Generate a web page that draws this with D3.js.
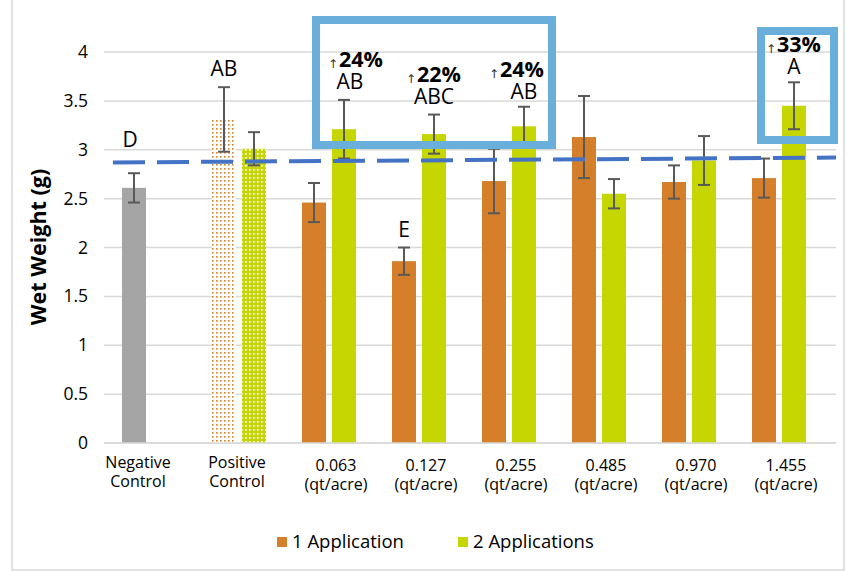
<!DOCTYPE html>
<html>
<head>
<meta charset="utf-8">
<script src="https://cdn.jsdelivr.net/npm/d3@7"></script>
<style>
  body { margin: 0; background: #fff; }
  text { font-family: "Open Sans", Lato, sans-serif; fill: #000; }
</style>
</head>
<body>
<div class="chart"></div>
<script>
// data
const categories = ["Negative Control", "Positive Control", "0.063", "0.127", "0.255", "0.485", "0.970", "1.455"];
const catLines = [["Negative", "Control"], ["Positive", "Control"], ["0.063", "(qt/acre)"], ["0.127", "(qt/acre)"],
                  ["0.255", "(qt/acre)"], ["0.485", "(qt/acre)"], ["0.970", "(qt/acre)"], ["1.455", "(qt/acre)"]];
const oneApp = [2.61, 3.31, 2.46, 1.86, 2.68, 3.13, 2.67, 2.71];
const oneErr = [0.15, 0.33, 0.20, 0.14, 0.33, 0.42, 0.17, 0.20];
const twoApp = [null, 3.01, 3.21, 3.16, 3.24, 2.55, 2.89, 3.45];
const twoErr = [null, 0.17, 0.30, 0.20, 0.20, 0.15, 0.25, 0.24];
const yTicks = [0, 0.5, 1, 1.5, 2, 2.5, 3, 3.5, 4];
const refLine = [2.87, 2.92]; // dashed line, start and end value
// letter groups: [category, series, text]
const letters = [[0, 1, "D"], [1, 1, "AB"], [2, 2, "AB"], [3, 2, "ABC"], [4, 2, "AB"], [3, 1, "E"], [7, 2, "A"]];
const increases = [[2, "24%"], [3, "22%"], [4, "24%"], [7, "33%"]];
const seriesNames = ["1 Application", "2 Applications"];

const orange = "#d67f2b", green = "#c5d600", grey = "#a5a5a5", errCol = "#595959";

const W = 847, H = 573;
const svg = d3.select(".chart").append("svg").attr("width", W).attr("height", H);

// patterns for positive control
const defs = svg.append("defs");
const pO = defs.append("pattern").attr("id", "dotOrange").attr("patternUnits", "userSpaceOnUse")
  .attr("width", 4).attr("height", 4);
pO.append("rect").attr("width", 4).attr("height", 4).attr("fill", "#fff");
pO.append("rect").attr("width", 1.6).attr("height", 1.6).attr("fill", orange);
const pG = defs.append("pattern").attr("id", "dotGreen").attr("patternUnits", "userSpaceOnUse")
  .attr("width", 4).attr("height", 4);
pG.append("rect").attr("width", 4).attr("height", 4).attr("fill", green);
pG.append("rect").attr("x", 1).attr("y", 1).attr("width", 1.7).attr("height", 1.7).attr("fill", "#fff");

// frame
svg.append("rect").attr("x", 12).attr("y", -2).attr("width", 832).attr("height", 572)
  .attr("fill", "none").attr("stroke", "#d9d9d9").attr("stroke-width", 1.5);

const x = d3.scaleBand().domain(categories).range([104, 824]).padding(0);
const y = d3.scaleLinear().domain([0, 4]).range([443, 52]);
const barW = 24;

// grid
svg.append("g").selectAll("line").data(yTicks).join("line")
  .attr("x1", 104).attr("x2", 836)
  .attr("y1", d => y(d)).attr("y2", d => y(d))
  .attr("stroke", "#d9d9d9").attr("stroke-width", 1.5);

// y axis labels
const yAxis = svg.append("g").attr("transform", "translate(93,0)")
  .call(d3.axisLeft(y).tickValues(yTicks).tickSize(0).tickPadding(5).tickFormat(d3.format("~g")));
yAxis.select(".domain").remove();
yAxis.selectAll("text").attr("font-size", 17.5).attr("font-family", "'Open Sans', sans-serif").attr("fill", "#000");

svg.append("text").attr("transform", "translate(46,247) rotate(-90)")
  .attr("text-anchor", "middle").attr("font-size", 21.5).attr("font-weight", "bold").text("Wet Weight (g)");

// bars
const cx = i => x(categories[i]) + x.bandwidth() / 2;
const bars1 = oneApp.map((v, i) => ({i, v, e: oneErr[i], s: 0}));
const bars2 = twoApp.map((v, i) => ({i, v, e: twoErr[i], s: 1})).filter(d => d.v != null);
const allBars = bars1.concat(bars2);
const bx = d => d.s === 0 ? cx(d.i) - 27 : cx(d.i) + 3;

svg.append("g").selectAll("rect").data(allBars).join("rect")
  .attr("x", bx).attr("width", barW)
  .attr("y", d => y(d.v)).attr("height", d => y(0) - y(d.v))
  .attr("fill", d => {
    if (d.i === 0) return grey;
    if (d.i === 1) return d.s === 0 ? "url(#dotOrange)" : "url(#dotGreen)";
    return d.s === 0 ? orange : green;
  });

// baseline
svg.append("line").attr("x1", 104).attr("x2", 836).attr("y1", y(0)).attr("y2", y(0))
  .attr("stroke", "#d9d9d9").attr("stroke-width", 1.5);

// error bars
const eb = svg.append("g").attr("stroke", errCol).attr("stroke-width", 2);
allBars.forEach(d => {
  const c = bx(d) + barW / 2;
  eb.append("line").attr("x1", c).attr("x2", c).attr("y1", y(d.v + d.e)).attr("y2", y(d.v - d.e));
  eb.append("line").attr("x1", c - 6).attr("x2", c + 6).attr("y1", y(d.v + d.e)).attr("y2", y(d.v + d.e));
  eb.append("line").attr("x1", c - 6).attr("x2", c + 6).attr("y1", y(d.v - d.e)).attr("y2", y(d.v - d.e));
});

// dashed reference line
svg.append("line").attr("x1", 113).attr("x2", 836)
  .attr("y1", y(refLine[0])).attr("y2", y(refLine[1]))
  .attr("stroke", "#4472c4").attr("stroke-width", 4).attr("stroke-dasharray", "32,12");

// letters above bars
const barOf = (i, s) => allBars.find(d => d.i === i && d.s === s - 1);
const letterY = l => {
  const b = barOf(l[0], l[1]);
  const top = y(b.v + b.e);
  // D sits above the dashed line
  if (l[0] === 0) return Math.min(top, y(refLine[0])) - 15;
  return top - (l[0] === 4 || l[0] === 7 ? 8 : 11);
};
svg.append("g").selectAll("text").data(letters).join("text")
  .attr("x", d => bx(barOf(d[0], d[1])) + barW / 2 + (d[0] === 0 ? -4 : d[0] === 2 ? 6 : 0))
  .attr("y", letterY)
  .attr("text-anchor", "middle").attr("font-size", 21).text(d => d[2]);

// percentage increases
const inc = svg.append("g");
increases.forEach(([i, t]) => {
  const b = barOf(i, 2);
  const lt = letters.find(l => l[0] === i && l[1] === 2);
  const ly = letterY(lt) - 22;
  const c = bx(b) + barW / 2 + (i === 2 ? 17 : i === 4 ? -2 : 5);
  const tx = inc.append("text").attr("x", c).attr("y", ly)
    .attr("text-anchor", "middle").attr("font-size", 21.5).attr("font-weight", "bold").text(t);
  const w = tx.node().getComputedTextLength();
  inc.append("text").attr("x", c - w / 2 - 6).attr("y", ly + 1)
    .attr("text-anchor", "middle").attr("font-size", 12)
    .style("font-family", "'DejaVu Sans', sans-serif").style("fill", "#333").text("↑");
});

// highlight boxes
const boxStroke = "#6aafdc";
svg.append("rect").attr("x", 316).attr("y", 20).attr("width", 236).attr("height", 125)
  .attr("fill", "none").attr("stroke", boxStroke).attr("stroke-width", 8);
svg.append("rect").attr("x", 761).attr("y", 31).attr("width", 73).attr("height", 109)
  .attr("fill", "none").attr("stroke", boxStroke).attr("stroke-width", 8);

// category labels
const labX = i => cx(i) + (i === 0 ? -11 : i === 1 ? -2 : 7);
svg.append("g").selectAll("text").data(categories).join("text")
  .attr("x", (d, i) => labX(i))
  .attr("y", (d, i) => i < 2 ? 468 : 471).attr("text-anchor", "middle").attr("font-size", 16)
  .each(function(d, i) {
    d3.select(this).selectAll("tspan").data(catLines[i]).join("tspan")
      .attr("x", labX(i)).attr("dy", (t, k) => k === 0 ? 0 : 19).text(t => t);
  });

// legend
const leg = svg.append("g");
const legX = [277, 458];
seriesNames.forEach((n, k) => {
  leg.append("rect").attr("x", legX[k]).attr("y", 537).attr("width", 10).attr("height", 10)
    .attr("fill", k === 0 ? orange : green);
  leg.append("text").attr("x", legX[k] + 15).attr("y", 548).attr("font-size", 18.5).text(n);
});
</script>
</body>
</html>
